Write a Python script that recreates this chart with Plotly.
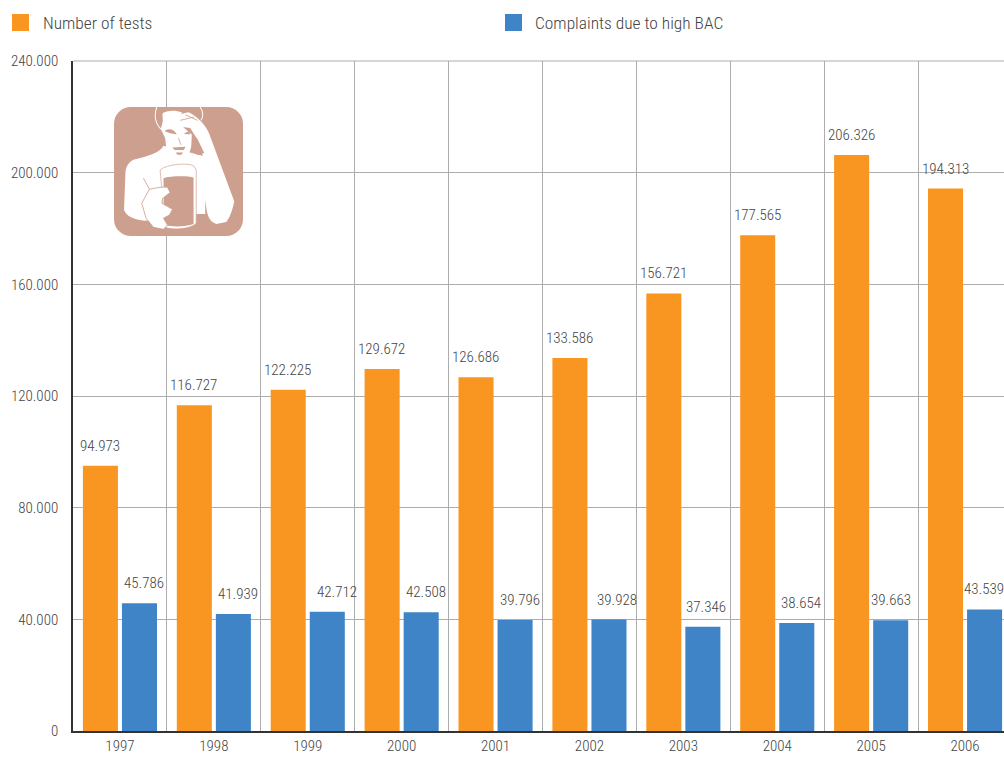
import base64
import plotly.graph_objects as go

years = ["1997","1998","1999","2000","2001","2002","2003","2004","2005","2006"]
tests = [94973,116727,122225,129672,126686,133586,156721,177565,206326,194313]
complaints = [45786,41939,42712,42508,39796,39928,37346,38654,39663,43539]
tick_vals = [0,40000,80000,120000,160000,200000,240000]
tick_text = ["0","40.000","80.000","120.000","160.000","200.000","240.000"]
series_names = ["Number of tests","Complaints due to high BAC"]
ORANGE="#F99621"; BLUE="#3E84C6"; FONT="Roboto Condensed"; TXT="#444444"; BR="#CD9F8E"; GRID="#ADADAD"
W,H=1004,765
L,T,B=73,61,34
cat=93.9
blue_label_nudge=[5,4.5,9.5,5,4.5,8,3.5,4,0,-1]
def px(x): return (x-L)/(W-L)
def py(y): return 1-(y-T)/(H-T-B)

icon = f'''<svg xmlns="http://www.w3.org/2000/svg" viewBox="12 12 386 386" width="129" height="129">
<rect x="12" y="12" width="386" height="386" rx="50" fill="{BR}"/>
<path d="M140 12 C132 35 135 60 152 78 M270 12 C280 28 279 42 272 52" fill="none" stroke="#fff" stroke-width="3"/>
<path d="M160 128 C150 150 110 160 70 170 C52 180 46 195 46 215 L42 320 C50 340 70 348 105 352 L262 332 L285 332 L285 160 L245 150 Z" fill="#fff"/>
<path d="M215 32 L235 28 C262 40 290 70 298 95 L372 295 C365 325 358 345 348 356 L318 362 C300 355 295 345 290 325 L283 280 L283 200 C283 175 278 160 275 150 L262 110 L240 75 L205 70 C200 55 208 40 215 32 Z" fill="#fff"/>
<path d="M243 88 L262 108 L282 150 L262 156 L250 148 Z" fill="{BR}"/>
<path d="M158 30 C175 22 195 20 215 28 L205 60 L245 95 L243 130 C238 155 228 168 205 170 C185 170 172 155 168 130 L165 105 L152 78 L157 60 C160 50 155 40 158 30 Z" fill="#fff"/>
<path d="M163 84 C175 74 192 78 200 94 C185 92 175 90 163 84 Z M220 92 L240 82 L238 94 Z M186 133 L226 131 L221 141 L194 141 Z M197 148 L219 148 L213 155 L202 155 Z" fill="{BR}"/>
<path d="M210 52 L252 42 M225 35 L262 52 M205 105 L212 125" fill="none" stroke="{BR}" stroke-width="2.5"/>
<path d="M150 200 C170 183 235 178 250 188 L258 200 L258 360 C245 376 190 382 165 372 Z" fill="#fff" stroke="{BR}" stroke-width="2"/>
<path d="M160 225 C180 218 235 218 250 223 L250 362 C230 370 190 372 162 365 Z" fill="{BR}"/>
<path d="M100 225 L118 258 L95 300 L108 345 L130 372 L160 378 L172 365 L160 345 L178 335 L187 318 L155 300 L158 285 L180 268 L172 252 C155 250 135 255 118 258" fill="#fff" stroke="{BR}" stroke-width="2.5"/>
</svg>'''
icon_uri="data:image/svg+xml;base64,"+base64.b64encode(icon.encode()).decode()

fig=go.Figure()
fig.add_bar(x=years,y=tests,name=series_names[0],marker=dict(color=ORANGE,line_width=0))
fig.add_bar(x=years,y=complaints,name=series_names[1],marker=dict(color=BLUE,line_width=0))

def fmt(v): return f"{v:,}".replace(",",".")
lab=dict(family=FONT,size=15,color=TXT,weight=300)
ann=[]
for i,(a,b) in enumerate(zip(tests,complaints)):
    ann.append(dict(x=i-0.208,y=a,text=fmt(a),xref="x",yref="y",showarrow=False,yanchor="bottom",xshift=-0.5,yshift=9,font=lab))
    ann.append(dict(x=i+0.208,y=b,text=fmt(b),xref="x",yref="y",showarrow=False,yanchor="bottom",xshift=blue_label_nudge[i],yshift=9,font=lab))
leg=dict(family=FONT,size=17.4,color=TXT,weight=300)
ann.append(dict(x=px(42),y=py(23),xref="paper",yref="paper",xanchor="left",yanchor="middle",xshift=-1,text=series_names[0],showarrow=False,font=leg))
ann.append(dict(x=px(534),y=py(23),xref="paper",yref="paper",xanchor="left",yanchor="middle",xshift=-1,text=series_names[1],showarrow=False,font=leg))

shapes=[
 dict(type="rect",xref="paper",yref="paper",x0=px(12),x1=px(29),y0=py(31),y1=py(14),fillcolor=ORANGE,line_width=0),
 dict(type="rect",xref="paper",yref="paper",x0=px(505),x1=px(522),y0=py(31),y1=py(14),fillcolor=BLUE,line_width=0),
 dict(type="line",xref="paper",yref="paper",x0=0,x1=1,y0=1,y1=1,line=dict(color=GRID,width=1.2),layer="below"),
]

fig.update_layout(
 width=W,height=H,margin=dict(l=L,r=0,t=T,b=B,pad=0,autoexpand=False),
 paper_bgcolor="white",plot_bgcolor="white",showlegend=False,
 barmode="group",bargap=0.168,bargroupgap=0.103,
 annotations=ann,shapes=shapes,
 images=[dict(source=icon_uri,xref="paper",yref="paper",x=px(114),y=py(107),sizex=129/(W-L),sizey=129/(H-T-B),xanchor="left",yanchor="top",layer="above",sizing="stretch")],
 font=dict(family=FONT,color=TXT),
)
fig.update_xaxes(type="category",categoryorder="array",categoryarray=years,range=[-0.5,-0.5+(W-L)/cat],automargin=False,
 tickson="boundaries",showgrid=True,gridcolor=GRID,gridwidth=1.2,
 ticks="outside",ticklen=26,tickcolor="rgba(0,0,0,0)",tickfont=dict(family=FONT,size=15,color=TXT,weight=300),
 showline=True,linecolor="#333333",linewidth=1.5,zeroline=False)
fig.update_yaxes(range=[0,240000],tickmode="array",tickvals=tick_vals,ticktext=tick_text,automargin=False,
 showgrid=True,gridcolor=GRID,gridwidth=1.2,
 ticks="outside",ticklen=10,tickcolor="rgba(0,0,0,0)",tickfont=dict(family=FONT,size=15,color=TXT,weight=300),
 showline=True,linecolor="#333333",linewidth=1.5,zeroline=False)
fig.write_html("out.html",config=dict(displayModeBar=False),post_script="document.body.style.margin='0';document.body.style.overflow='hidden';")
